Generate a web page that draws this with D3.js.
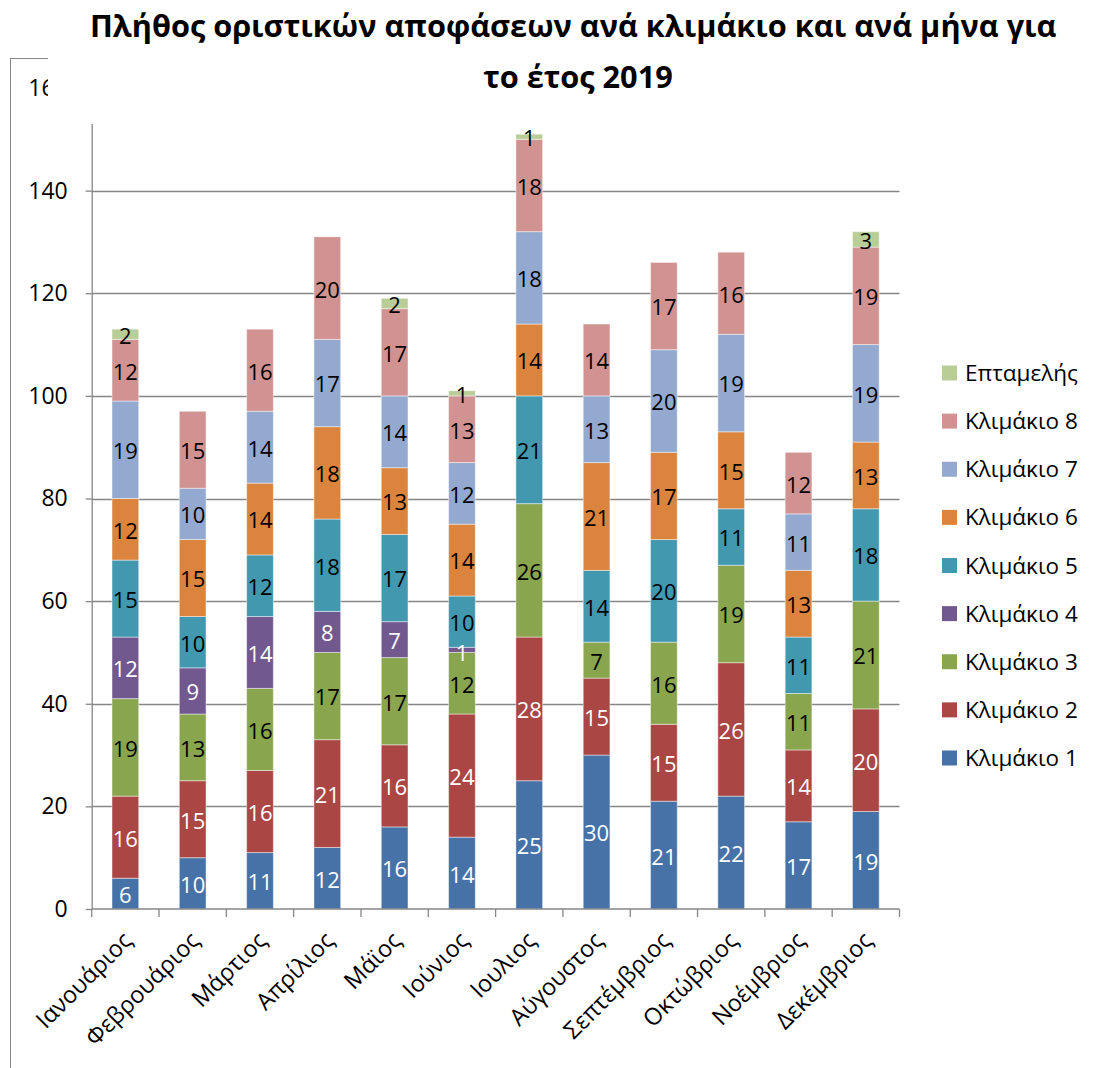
<!DOCTYPE html>
<html>
<head>
<meta charset="utf-8">
<script src="https://cdn.jsdelivr.net/npm/d3@7"></script>
<style>
  html, body { margin: 0; padding: 0; background: #fff; }
  svg { display: block; }
  text { font-family: "Open Sans", "Noto Sans", sans-serif; }
</style>
</head>
<body>
<svg id="chart" width="1103" height="1068"></svg>
<script>
const months = ["Ιανουάριος", "Φεβρουάριος", "Μάρτιος", "Απρίλιος", "Μάϊος", "Ιούνιος",
  "Ιουλιος", "Αύγουστος", "Σεπτέμβριος", "Οκτώβριος", "Νοέμβριος", "Δεκέμβριος"];
const seriesNames = ["Κλιμάκιο 1", "Κλιμάκιο 2", "Κλιμάκιο 3", "Κλιμάκιο 4", "Κλιμάκιο 5",
  "Κλιμάκιο 6", "Κλιμάκιο 7", "Κλιμάκιο 8", "Επταμελής"];
const klimakio1 = [6, 10, 11, 12, 16, 14, 25, 30, 21, 22, 17, 19];
const klimakio2 = [16, 15, 16, 21, 16, 24, 28, 15, 15, 26, 14, 20];
const klimakio3 = [19, 13, 16, 17, 17, 12, 26, 7, 16, 19, 11, 21];
const klimakio4 = [12, 9, 14, 8, 7, 1, 0, 0, 0, 0, 0, 0];
const klimakio5 = [15, 10, 12, 18, 17, 10, 21, 14, 20, 11, 11, 18];
const klimakio6 = [12, 15, 14, 18, 13, 14, 14, 21, 17, 15, 13, 13];
const klimakio7 = [19, 10, 14, 17, 14, 12, 18, 13, 20, 19, 11, 19];
const klimakio8 = [12, 15, 16, 20, 17, 13, 18, 14, 17, 16, 12, 19];
const eptameles = [2, 0, 0, 0, 2, 1, 1, 0, 0, 0, 0, 3];
const yTicks = [0, 20, 40, 60, 80, 100, 120, 140, 160];
const titleLines = ["Πλήθος οριστικών αποφάσεων ανά κλιμάκιο και ανά μήνα για", "το έτος 2019"];

const seriesValues = [klimakio1, klimakio2, klimakio3, klimakio4, klimakio5,
  klimakio6, klimakio7, klimakio8, eptameles];
const colors = ["#4672A8", "#AA4643", "#89A54E", "#71588F", "#4198AF",
  "#DB843D", "#93A9CF", "#D19392", "#B9CD96"];
const labelColors = ["#fff", "#fff", "#000", "#fff", "#000", "#000", "#000", "#000", "#000"];

const rows = months.map((m, i) => {
  const r = { month: m };
  seriesNames.forEach((s, j) => r[s] = seriesValues[j][i]);
  return r;
});

const svg = d3.select("#chart");
const axisColor = "#868686";

// outer chart border
svg.append("rect")
  .attr("x", 10.5).attr("y", 58.5)
  .attr("width", 1300).attr("height", 1300)
  .attr("fill", "none").attr("stroke", axisColor).attr("stroke-width", 1);

const plotLeft = 91.7, plotRight = 899.5, plotBottom = 909;
const x = d3.scaleBand().domain(months).range([plotLeft, plotRight])
  .paddingInner(0.603).paddingOuter(0.3015);
const y = d3.scaleLinear().domain([0, 160]).range([plotBottom, 88]);

// gridlines
svg.append("g").selectAll("line")
  .data(yTicks.filter(t => t > 0))
  .join("line")
  .attr("x1", plotLeft).attr("x2", plotRight)
  .attr("y1", d => Math.round(y(d)) + 0.5).attr("y2", d => Math.round(y(d)) + 0.5)
  .attr("stroke", axisColor).attr("stroke-width", 1.3);

// stacked bars
const stack = d3.stack().keys(seriesNames);
const stacked = stack(rows);

const layers = svg.append("g").selectAll("g")
  .data(stacked)
  .join("g")
  .attr("fill", (d, i) => colors[i]);

layers.selectAll("rect")
  .data(d => d.filter(p => p[1] - p[0] > 0))
  .join("rect")
  .attr("x", p => x(p.data.month))
  .attr("width", x.bandwidth())
  .attr("y", p => y(p[1]))
  .attr("height", p => y(p[0]) - y(p[1]))
  .attr("stroke", "rgba(255,255,255,0.45)")
  .attr("stroke-width", 1);

// data labels (with light collision avoidance inside each bar)
const labelFs = 22;
const boxH = labelFs * 1.362;
const labels = [];
stacked.forEach((layer, i) => {
  layer.forEach((p, j) => {
    if (p[1] - p[0] > 0) {
      labels.push({ series: i, col: j, month: p.data.month, value: p[1] - p[0],
        cy: (y(p[0]) + y(p[1])) / 2 + 1.5 });
    }
  });
});
months.forEach(m => {
  const col = labels.filter(l => l.month === m).sort((a, b) => a.cy - b.cy); // top to bottom
  for (let k = 1; k < col.length; k++) {
    const minY = col[k - 1].cy + boxH;
    if (col[k].cy < minY) {
      const next = col[k + 1];
      const room = next ? next.cy - boxH : Infinity;
      col[k].cy = Math.min(minY, room);
    }
  }
});
svg.append("g").selectAll("text")
  .data(labels)
  .join("text")
  .attr("x", l => x(l.month) + x.bandwidth() / 2)
  .attr("y", l => l.cy)
  .attr("dy", "0.36em")
  .attr("text-anchor", "middle")
  .attr("font-size", labelFs)
  .attr("fill", l => labelColors[l.series])
  .text(l => l.value);

// y axis
const yAxis = d3.axisLeft(y).tickValues(yTicks).tickSizeInner(6).tickSizeOuter(0).tickPadding(18);
const gy = svg.append("g").attr("transform", `translate(${plotLeft},0)`).call(yAxis);
gy.select(".domain").attr("stroke", axisColor).attr("stroke-width", 1.3);
gy.selectAll(".tick line").attr("stroke", axisColor).attr("stroke-width", 1.3);
gy.selectAll(".tick text").attr("font-size", 23).attr("fill", "#000")
  .attr("font-family", "'Open Sans', sans-serif");

// x axis with ticks at category boundaries
const gx = svg.append("g");
gx.append("line")
  .attr("x1", plotLeft).attr("x2", plotRight)
  .attr("y1", plotBottom).attr("y2", plotBottom)
  .attr("stroke", axisColor).attr("stroke-width", 1.3);
const boundaries = d3.range(months.length + 1).map(i => plotLeft + i * x.step());
gx.selectAll("line.tk").data(boundaries).join("line")
  .attr("class", "tk")
  .attr("x1", d => d).attr("x2", d => d)
  .attr("y1", plotBottom).attr("y2", plotBottom + 8)
  .attr("stroke", axisColor).attr("stroke-width", 1.3);
gx.selectAll("text").data(months).join("text")
  .attr("transform", m => `translate(${x(m) + x.bandwidth() / 2 + 8},${plotBottom + 33}) rotate(-45)`)
  .attr("text-anchor", "end")
  .attr("font-size", 23.5)
  .attr("fill", "#000")
  .text(m => m);

// legend
const legendItems = seriesNames.map((s, i) => ({ name: s, color: colors[i] })).reverse();
const lg = svg.append("g");
const legendY = d3.scalePoint().domain(legendItems.map(d => d.name)).range([373, 758]);
lg.selectAll("rect").data(legendItems).join("rect")
  .attr("x", 942).attr("y", d => legendY(d.name) - 7.5)
  .attr("width", 15).attr("height", 15)
  .attr("fill", d => d.color);
lg.selectAll("text").data(legendItems).join("text")
  .attr("x", 965).attr("y", d => legendY(d.name))
  .attr("dy", "0.36em")
  .attr("font-size", 22.5)
  .attr("fill", "#000")
  .text(d => d.name);

// title box covering top of the chart area
svg.append("rect").attr("x", 48).attr("y", 0).attr("width", 1100).attr("height", 124)
  .attr("fill", "#fff");
const t1 = svg.append("text").attr("x", 90).attr("y", 37)
  .attr("font-weight", "bold").attr("font-size", 28).attr("fill", "#000")
  .text(titleLines[0]);
const w1 = t1.node().getComputedTextLength();
const fs = 28 * 967 / w1;
t1.attr("font-size", fs);
svg.append("text").attr("x", 578).attr("y", 88)
  .attr("text-anchor", "middle")
  .attr("font-weight", "bold").attr("font-size", fs).attr("fill", "#000")
  .text(titleLines[1]);
</script>
</body>
</html>
